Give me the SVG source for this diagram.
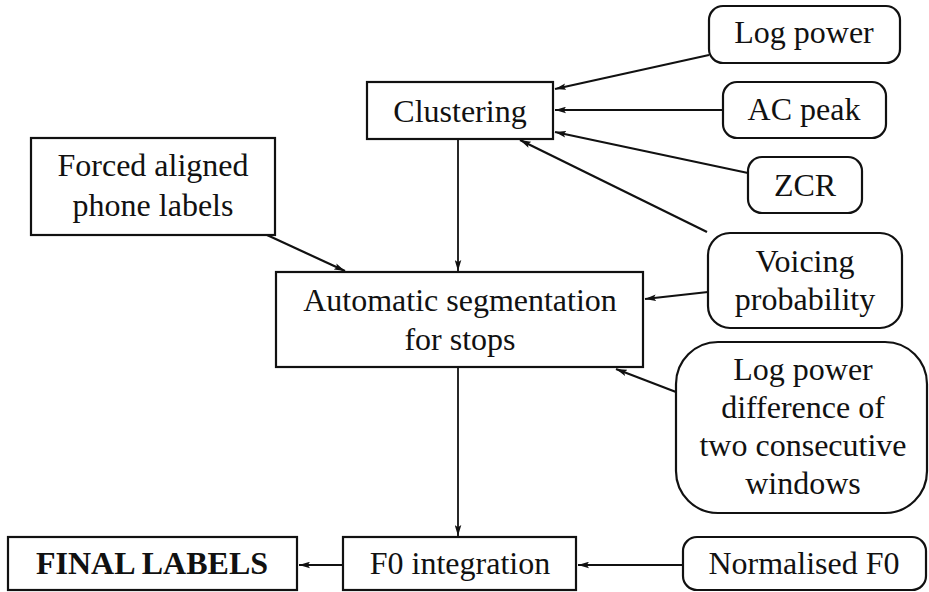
<svg xmlns="http://www.w3.org/2000/svg" width="929" height="592" viewBox="0 0 929 592">
<defs>
<style>
.box{fill:#fff;stroke:#111;stroke-width:2.2}
.t{font-family:"Liberation Serif","Times New Roman",Tinos,"Nimbus Roman","DejaVu Serif",serif;font-size:32px;fill:#111;text-anchor:middle}
.b{font-weight:bold}
.c{stroke:#111;stroke-width:2.2;fill:none;marker-end:url(#ah)}
.v{stroke-width:1.8}
</style>
<marker id="ah" viewBox="0 0 10 6" refX="10" refY="3" markerWidth="11" markerHeight="7" markerUnits="userSpaceOnUse" orient="auto">
<path d="M0,0 L10,3 L0,6 L2,3 Z" fill="#111"/>
</marker>
</defs>
<rect width="929" height="592" fill="#fff"/>
<g id="connectors">
<line class="c" x1="709" y1="55" x2="555" y2="89"/>
<line class="c" x1="723" y1="110" x2="555" y2="110"/>
<line class="c" x1="748" y1="173" x2="555" y2="132"/>
<line class="c" x1="707" y1="232" x2="520" y2="140"/>
<line class="c v" x1="458" y1="139" x2="458" y2="271"/>
<line class="c" x1="267" y1="235" x2="345" y2="271"/>
<line class="c" x1="708" y1="292" x2="645" y2="299"/>
<line class="c" x1="676" y1="392" x2="616" y2="369"/>
<line class="c v" x1="458" y1="367" x2="458" y2="536"/>
<line class="c" x1="683" y1="565" x2="578" y2="565"/>
<line class="c" x1="343" y1="565" x2="299" y2="565"/>
</g>
<g id="logpower"><rect class="box" x="709" y="6" width="191" height="57" rx="14"/><text class="t" x="804" y="43">Log power</text></g>
<g id="clustering"><rect class="box" x="367" y="82" width="186" height="57"/><text class="t" x="460" y="122">Clustering</text></g>
<g id="acpeak"><rect class="box" x="723" y="82" width="163" height="56" rx="14"/><text class="t" x="804" y="120">AC peak</text></g>
<g id="zcr"><rect class="box" x="748" y="157" width="114" height="56" rx="14"/><text class="t" x="805" y="196">ZCR</text></g>
<g id="forced"><rect class="box" x="31" y="138" width="244" height="97"/><text class="t" x="153" y="176">Forced aligned</text><text class="t" x="153" y="216">phone labels</text></g>
<g id="voicing"><rect class="box" x="708" y="233" width="194" height="95" rx="22"/><text class="t" x="805" y="272">Voicing</text><text class="t" x="805" y="310">probability</text></g>
<g id="autoseg"><rect class="box" x="276" y="272" width="367" height="95"/><text class="t" x="460" y="311">Automatic segmentation</text><text class="t" x="460" y="350">for stops</text></g>
<g id="logdiff"><rect class="box" x="676" y="342" width="251" height="171" rx="42"/><text class="t" x="803" y="380">Log power</text><text class="t" x="803" y="418">difference of</text><text class="t" x="803" y="456">two consecutive</text><text class="t" x="803" y="494">windows</text></g>
<g id="final"><rect class="box" x="8" y="537" width="289" height="53"/><text class="t b" x="152" y="574">FINAL LABELS</text></g>
<g id="f0int"><rect class="box" x="343" y="537" width="233" height="53"/><text class="t" x="460" y="574">F0 integration</text></g>
<g id="normf0"><rect class="box" x="683" y="537" width="243" height="53" rx="14"/><text class="t" x="804" y="574">Normalised F0</text></g>
</svg>
